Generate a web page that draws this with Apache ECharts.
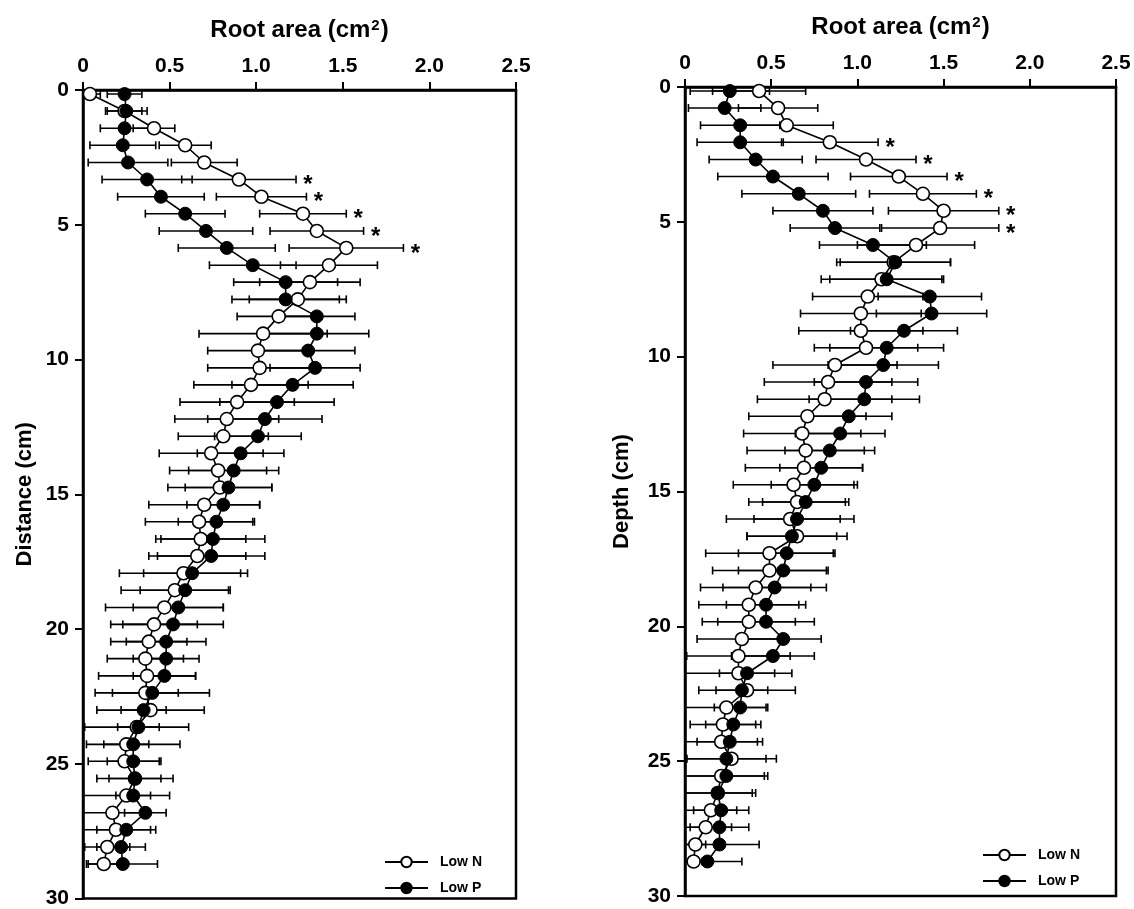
<!DOCTYPE html>
<html>
<head>
<meta charset="utf-8">
<script src="https://cdn.jsdelivr.net/npm/echarts@6/dist/echarts.min.js"></script>
<style>html,body{margin:0;padding:0;background:#fff}#c{width:1134px;height:909px}</style>
</head>
<body>
<div id="c"></div>
<script>
// Depth / distance of each sampled layer (cm)
const depth = [0.15,0.78,1.42,2.05,2.69,3.32,3.96,4.59,5.23,5.86,6.50,7.13,7.77,8.40,9.04,9.67,10.31,10.94,11.58,12.21,12.85,13.48,14.12,14.75,15.39,16.02,16.66,17.29,17.93,18.56,19.20,19.83,20.47,21.10,21.74,22.37,23.01,23.64,24.28,24.91,25.55,26.18,26.82,27.45,28.09,28.72];

// Left panel (Distance)
const leftLowN = [0.04,0.24,0.41,0.59,0.70,0.90,1.03,1.27,1.35,1.52,1.42,1.31,1.24,1.13,1.04,1.01,1.02,0.97,0.89,0.83,0.81,0.74,0.78,0.79,0.70,0.67,0.68,0.66,0.58,0.53,0.47,0.41,0.38,0.36,0.37,0.36,0.39,0.31,0.25,0.24,0.30,0.25,0.17,0.19,0.14,0.12];
const leftLowNErr = [0.06,0.10,0.12,0.15,0.19,0.33,0.26,0.25,0.27,0.33,0.28,0.29,0.28,0.24,0.37,0.29,0.30,0.33,0.33,0.30,0.26,0.30,0.28,0.30,0.32,0.31,0.26,0.28,0.37,0.31,0.34,0.25,0.22,0.22,0.28,0.19,0.31,0.30,0.13,0.21,0.22,0.25,0.17,0.20,0.13,0.10];
const leftLowP = [0.24,0.25,0.24,0.23,0.26,0.37,0.45,0.59,0.71,0.83,0.98,1.17,1.17,1.35,1.35,1.30,1.34,1.21,1.12,1.05,1.01,0.91,0.87,0.84,0.81,0.77,0.75,0.74,0.63,0.59,0.55,0.52,0.48,0.48,0.47,0.40,0.35,0.32,0.29,0.29,0.30,0.29,0.36,0.25,0.22,0.23];
const leftLowPErr = [0.10,0.12,0.14,0.19,0.23,0.26,0.25,0.23,0.27,0.28,0.25,0.30,0.31,0.22,0.30,0.27,0.26,0.35,0.33,0.33,0.25,0.25,0.26,0.25,0.21,0.22,0.30,0.31,0.28,0.26,0.26,0.29,0.23,0.19,0.18,0.33,0.13,0.12,0.27,0.15,0.15,0.10,0.12,0.17,0.14,0.20];
const leftStars = [5,6,7,8,9];

// Right panel (Depth)
const rightLowN = [0.43,0.54,0.59,0.84,1.05,1.24,1.38,1.50,1.48,1.34,1.21,1.14,1.06,1.02,1.02,1.05,0.87,0.83,0.81,0.71,0.68,0.70,0.69,0.63,0.65,0.61,0.65,0.49,0.49,0.41,0.37,0.37,0.33,0.31,0.31,0.36,0.24,0.22,0.21,0.27,0.21,0.19,0.15,0.12,0.06,0.05];
const rightLowNErr = [0.27,0.23,0.27,0.28,0.29,0.28,0.31,0.32,0.34,0.34,0.33,0.35,0.32,0.35,0.36,0.30,0.36,0.37,0.39,0.34,0.34,0.34,0.34,0.35,0.28,0.37,0.29,0.37,0.33,0.32,0.29,0.27,0.26,0.30,0.31,0.28,0.24,0.19,0.21,0.26,0.25,0.22,0.15,0.15,0.06,0.05];
const rightLowP = [0.26,0.23,0.32,0.32,0.41,0.51,0.66,0.80,0.87,1.09,1.22,1.17,1.42,1.43,1.27,1.17,1.15,1.05,1.04,0.95,0.90,0.84,0.79,0.75,0.70,0.65,0.62,0.59,0.57,0.52,0.47,0.47,0.57,0.51,0.36,0.33,0.32,0.28,0.26,0.24,0.24,0.19,0.21,0.20,0.20,0.13];
const rightLowPErr = [0.23,0.21,0.23,0.25,0.27,0.32,0.33,0.29,0.26,0.31,0.32,0.33,0.30,0.32,0.31,0.33,0.32,0.30,0.32,0.25,0.26,0.26,0.24,0.25,0.25,0.25,0.26,0.28,0.26,0.30,0.23,0.28,0.22,0.24,0.16,0.15,0.15,0.16,0.19,0.23,0.24,0.20,0.16,0.17,0.23,0.20];
const rightStars = [3,4,5,6,7,8];

const xTicks = [0, 0.5, 1.0, 1.5, 2.0, 2.5];
const xTitle = '{a|Root area (cm}{s|2}{a|)}';
const yTitles = ['Distance (cm)', 'Depth (cm)'];
const seriesNames = ['Low N', 'Low P'];

const FONT = '"Liberation Sans", Arial, sans-serif';

function errSeries(idx, vals, errs, z) {
  return {
    type: 'custom', xAxisIndex: idx, yAxisIndex: idx, z: z, silent: true,
    encode: {x: 0, y: 2},
    data: depth.map((d, i) => [vals[i], errs[i], d]),
    renderItem: function (params, api) {
      const v = api.value(0), e = api.value(1), y = api.value(2);
      const p1 = api.coord([Math.max(0, v - e), y]);
      const p2 = api.coord([v + e, y]);
      const h = 4;
      const st = {stroke: '#000', lineWidth: 1.6};
      return {type: 'group', children: [
        {type: 'line', shape: {x1: p1[0], y1: p1[1], x2: p2[0], y2: p2[1]}, style: st},
        {type: 'line', shape: {x1: p1[0], y1: p1[1] - h, x2: p1[0], y2: p1[1] + h}, style: st},
        {type: 'line', shape: {x1: p2[0], y1: p2[1] - h, x2: p2[0], y2: p2[1] + h}, style: st}
      ]};
    }
  };
}
function starSeries(idx, vals, errs, rows) {
  return {
    type: 'custom', xAxisIndex: idx, yAxisIndex: idx, z: 5, silent: true,
    encode: {x: 0, y: 1},
    data: rows.map(i => [vals[i] + errs[i], depth[i]]),
    renderItem: function (params, api) {
      const p = api.coord([api.value(0), api.value(1)]);
      return {type: 'text', x: p[0] + 12, y: p[1] + 6,
        style: {text: '*', font: 'bold 24px ' + FONT, fill: '#000', align: 'center', verticalAlign: 'middle'}};
    }
  };
}
function lineSeries(idx, name, vals, open, z) {
  return {
    type: 'line', name: name, xAxisIndex: idx, yAxisIndex: idx, z: z,
    data: depth.map((d, i) => [vals[i], d]),
    symbol: 'circle', symbolSize: 13, showSymbol: true,
    lineStyle: {color: '#000', width: 1.6},
    itemStyle: open ? {color: '#fff', borderColor: '#000', borderWidth: 1.6} : {color: '#000', borderColor: '#000', borderWidth: 1},
    animation: false
  };
}
function xAxis(idx) {
  return {
    type: 'value', gridIndex: idx, position: 'top', min: 0, max: 2.5, interval: 0.5,
    name: xTitle, nameLocation: 'middle', nameGap: 48,
    nameTextStyle: {fontFamily: FONT, fontWeight: 'bold', fontSize: 24, color: '#000',
      rich: {
        a: {fontFamily: FONT, fontWeight: 'bold', fontSize: 24, color: '#000'},
        s: {fontFamily: FONT, fontWeight: 'bold', fontSize: 15, color: '#000', verticalAlign: 'top', padding: [0, 1, 8, 1]}
      }},
    axisLine: {show: true, lineStyle: {color: '#000', width: 2.5}},
    axisTick: {show: true, inside: false, length: 8, lineStyle: {color: '#000', width: 2}},
    axisLabel: {fontFamily: FONT, fontWeight: 'bold', fontSize: 21, color: '#000', margin: 13,
      formatter: v => (xTicks.indexOf(v) === 0 ? '0' : v.toFixed(1))},
    splitLine: {show: false}
  };
}
function yAxis(idx, gap) {
  return {
    type: 'value', gridIndex: idx, inverse: true, min: 0, max: 30, interval: 5,
    name: yTitles[idx], nameLocation: 'middle', nameGap: gap, nameRotate: 90,
    nameTextStyle: {fontFamily: FONT, fontWeight: 'bold', fontSize: 22, color: '#000'},
    axisLine: {show: true, lineStyle: {color: '#000', width: 2.5}},
    axisTick: {show: true, inside: false, length: 8, lineStyle: {color: '#000', width: 2}},
    axisLabel: {fontFamily: FONT, fontWeight: 'bold', fontSize: 21, color: '#000', margin: 14},
    splitLine: {show: false}
  };
}
function legend(left, top) {
  return {
    data: seriesNames, left: left, top: top, orient: 'vertical',
    itemWidth: 43, itemHeight: 13, itemGap: 12,
    textStyle: {fontFamily: FONT, fontWeight: 'bold', fontSize: 14, color: '#000', padding: [0, 0, 0, 7]},
    selectedMode: false
  };
}

const option = {
  animation: false,
  backgroundColor: '#fff',
  grid: [
    {left: 83, top: 90, width: 433, height: 809, show: true, borderColor: '#000', borderWidth: 2.5, backgroundColor: 'transparent'},
    {left: 685, top: 87, width: 431, height: 809, show: true, borderColor: '#000', borderWidth: 2.5, backgroundColor: 'transparent'}
  ],
  xAxis: [xAxis(0), xAxis(1)],
  yAxis: [yAxis(0, 47), yAxis(1, 52)],
  legend: [legend(379, 850), legend(977, 843)],
  series: [
    errSeries(0, leftLowN, leftLowNErr, 1),
    errSeries(0, leftLowP, leftLowPErr, 1),
    lineSeries(0, seriesNames[0], leftLowN, true, 2),
    lineSeries(0, seriesNames[1], leftLowP, false, 3),
    starSeries(0, leftLowN, leftLowNErr, leftStars),
    errSeries(1, rightLowN, rightLowNErr, 1),
    errSeries(1, rightLowP, rightLowPErr, 1),
    lineSeries(1, seriesNames[0], rightLowN, true, 2),
    lineSeries(1, seriesNames[1], rightLowP, false, 3),
    starSeries(1, rightLowN, rightLowNErr, rightStars)
  ]
};
const chart = echarts.init(document.getElementById('c'), null, {renderer: 'canvas'});
chart.setOption(option);
</script>
</body>
</html>
